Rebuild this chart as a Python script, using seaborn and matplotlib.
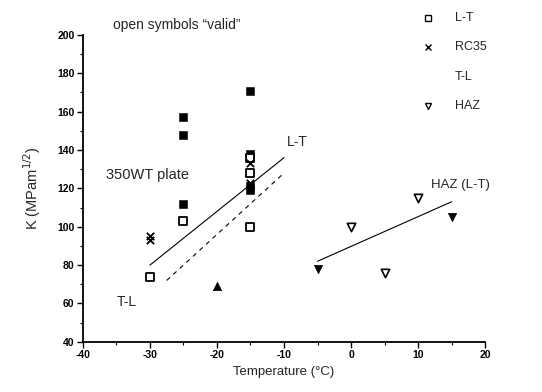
import matplotlib
matplotlib.use("Agg")
import matplotlib.pyplot as plt
import seaborn as sns
import pandas as pd
from matplotlib.ticker import MultipleLocator

sns.set_theme(style="ticks")
plt.rcParams['font.family'] = ['Liberation Sans', 'DejaVu Sans']
plt.rcParams['axes.unicode_minus'] = False

# data
lt_open_x = [-30, -25, -15, -15, -15]
lt_open_y = [74, 103, 100, 128, 136]
lt_fill_x = [-25, -25, -25, -15, -15, -15, -15]
lt_fill_y = [157, 148, 112, 171, 138, 121, 119]
rc35_x = [-30, -30, -15, -15]
rc35_y = [95, 93, 133, 123]
tl_fill_x = [-20]
tl_fill_y = [69]
haz_open_x = [0, 5, 10]
haz_open_y = [100, 76, 115]
haz_fill_x = [-5, 15]
haz_fill_y = [78, 105]
lt_line_x = [-30, -10]
lt_line_y = [80, 136]
tl_line_x = [-27.5, -10]
tl_line_y = [72, 128]
haz_line_x = [-5, 15]
haz_line_y = [82, 113]

fig = plt.figure(figsize=(5.42, 3.92), dpi=100)
ax = fig.add_axes([0.153, 0.128, 0.742, 0.783])

k = dict(ax=ax, legend=False, zorder=3)
sns.scatterplot(x=lt_fill_x, y=lt_fill_y, marker='s', s=26, color='black', edgecolor='black', **k)
sns.scatterplot(x=lt_open_x, y=lt_open_y, marker='s', s=26, facecolor='white', edgecolor='black', linewidth=1.3, **k)
sns.scatterplot(x=rc35_x, y=rc35_y, marker='x', s=28, color='black', linewidth=1.3, **k)
sns.scatterplot(x=tl_fill_x, y=tl_fill_y, marker='^', s=36, color='black', edgecolor='black', **k)
sns.scatterplot(x=haz_open_x, y=haz_open_y, marker='v', s=36, facecolor='white', edgecolor='black', linewidth=1.2, **k)
sns.scatterplot(x=haz_fill_x, y=haz_fill_y, marker='v', s=36, color='black', edgecolor='black', **k)

sns.lineplot(x=lt_line_x, y=lt_line_y, color='black', linewidth=0.8, ax=ax)
sns.lineplot(x=tl_line_x, y=tl_line_y, color='black', linewidth=0.8, linestyle=(0, (4, 4)), ax=ax)
sns.lineplot(x=haz_line_x, y=haz_line_y, color='black', linewidth=0.8, ax=ax)

ax.set_xlim(-40, 20)
ax.set_ylim(40, 200)
ax.xaxis.set_major_locator(MultipleLocator(10))
ax.xaxis.set_minor_locator(MultipleLocator(5))
ax.yaxis.set_major_locator(MultipleLocator(20))
ax.yaxis.set_minor_locator(MultipleLocator(10))
sns.despine(ax=ax)
for s in ['left', 'bottom']:
    ax.spines[s].set_linewidth(1.3)
    ax.spines[s].set_color('black')
ax.tick_params(which='major', direction='out', length=4, width=1, labelsize=7.5, colors='black', pad=2)
ax.tick_params(which='minor', direction='out', length=2.5, width=0.8, colors='black')
for lab in ax.get_xticklabels() + ax.get_yticklabels():
    lab.set_fontweight('bold')

ax.set_xlabel('Temperature (°C)', fontsize=9.5, labelpad=4)
ax.set_ylabel('K (MPam$^{1/2}$)', fontsize=10.5, labelpad=10)

ax.text(-35.5, 205, 'open symbols “valid”', fontsize=10, va='center', ha='left', clip_on=False)
ax.text(-36.5, 127, '350WT plate', fontsize=10.5, va='center', ha='left')
ax.text(-9.5, 144, 'L-T', fontsize=10, va='center', ha='left')
ax.text(-35, 61, 'T-L', fontsize=10, va='center', ha='left')
ax.text(12, 122, 'HAZ (L-T)', fontsize=9.5, va='center', ha='left')

# legend-like key
leg_rows = [('s', 'L-T', True), ('x', 'RC35', True), (None, 'T-L', False), ('v', 'HAZ', True)]
fig_y = [18, 47, 77, 106]
for (m, lab, hasm), py in zip(leg_rows, fig_y):
    fy = 1 - py / 392
    if hasm:
        if m == 'x':
            fig.lines.append(plt.Line2D([428 / 542], [fy], marker='x', color='black', markersize=4.5, mew=1, transform=fig.transFigure))
        else:
            fig.lines.append(plt.Line2D([428 / 542], [fy], marker=m, markerfacecolor='white', markeredgecolor='black', markersize=4.5, mew=1, linestyle='none', transform=fig.transFigure))
    fig.text(455 / 542, fy, lab, fontsize=9, va='center', ha='left')

fig.savefig('out.png', dpi=100)
